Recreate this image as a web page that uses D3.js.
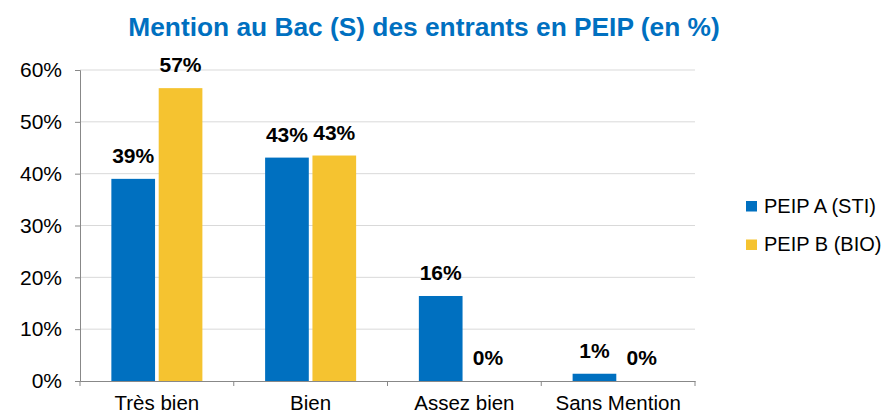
<!DOCTYPE html>
<html>
<head>
<meta charset="utf-8">
<script src="https://cdn.jsdelivr.net/npm/d3@7"></script>
<style>
  body { margin: 0; background: #fff; }
  svg { font-family: "Liberation Sans", Arial, sans-serif; }
</style>
</head>
<body>
<svg width="888" height="416"></svg>
<script>
// chart data
const categories = ['Très bien', 'Bien', 'Assez bien', 'Sans Mention'];
const seriesNames = ['PEIP A (STI)', 'PEIP B (BIO)'];
const peipA = [39.0, 43.1, 16.4, 1.4];
const peipB = [56.5, 43.5, 0, 0];
const labelsA = ['39%', '43%', '16%', '1%'];
const labelsB = ['57%', '43%', '0%', '0%'];
const yTicks = [0, 10, 20, 30, 40, 50, 60];

const colors = ['#0070C0', '#F5C330'];
const font = '"Liberation Sans", Arial, sans-serif';

const svg = d3.select('svg');
const margin = { top: 70, right: 193, bottom: 35, left: 80 };
const width = 888 - margin.left - margin.right;
const height = 416 - margin.top - margin.bottom;

const chart = svg.append('g')
  .attr('transform', `translate(${margin.left}, ${margin.top})`);

const x0 = d3.scaleBand().domain(categories).range([0, width]).padding(0);
const x1 = d3.scaleBand().domain([0, 1])
  .range([x0.bandwidth() * 0.204, x0.bandwidth() * 0.796])
  .paddingInner(0.077);
const y = d3.scaleLinear().domain([0, 60]).range([height, 0]);

// gridlines
chart.append('g')
  .selectAll('line')
  .data(yTicks.slice(1))
  .join('line')
  .attr('x1', 0).attr('x2', width)
  .attr('y1', d => y(d)).attr('y2', d => y(d))
  .attr('stroke', '#d9d9d9').attr('stroke-width', 1);

// bars
const rows = categories.map((c, i) => ({
  cat: c,
  vals: [{ s: 0, v: peipA[i], l: labelsA[i] }, { s: 1, v: peipB[i], l: labelsB[i] }]
}));

const groups = chart.selectAll('.grp')
  .data(rows)
  .join('g')
  .attr('transform', d => `translate(${x0(d.cat)}, 0)`);

groups.selectAll('rect')
  .data(d => d.vals)
  .join('rect')
  .attr('x', d => x1(d.s))
  .attr('width', x1.bandwidth())
  .attr('y', d => y(d.v))
  .attr('height', d => height - y(d.v))
  .attr('fill', d => colors[d.s]);

groups.selectAll('text')
  .data(d => d.vals)
  .join('text')
  .attr('x', d => x1(d.s) + x1.bandwidth() / 2)
  .attr('y', d => y(d.v) - 16)
  .attr('text-anchor', 'middle')
  .attr('font-size', 21)
  .attr('font-weight', 'bold')
  .attr('fill', '#000')
  .text(d => d.l);

// y axis
const yAxis = chart.append('g')
  .call(d3.axisLeft(y).tickValues(yTicks).tickFormat(d => d + '%').tickSize(5).tickPadding(13));
yAxis.select('.domain').attr('stroke', '#888');
yAxis.selectAll('.tick line').attr('stroke', '#888');
yAxis.selectAll('.tick text')
  .attr('font-size', 21).attr('fill', '#000')
  .attr('font-family', font);

// x axis
const xAxis = chart.append('g')
  .attr('transform', `translate(0, ${height})`)
  .call(d3.axisBottom(x0).tickSize(0).tickPadding(14));
xAxis.select('.domain').attr('stroke', '#888');
xAxis.selectAll('.tick text')
  .attr('font-size', 20.5).attr('fill', '#000')
  .attr('font-family', font);
xAxis.selectAll('.sep')
  .data(d3.range(categories.length + 1))
  .join('line')
  .attr('class', 'sep')
  .attr('x1', i => i * x0.step()).attr('x2', i => i * x0.step())
  .attr('y1', 0).attr('y2', 5)
  .attr('stroke', '#888');

// title
svg.append('text')
  .attr('x', 424).attr('y', 36)
  .attr('text-anchor', 'middle')
  .attr('font-size', 26.3)
  .attr('font-weight', 'bold')
  .attr('fill', '#0070C0')
  .text('Mention au Bac (S) des entrants en PEIP (en %)');

// legend
const legend = svg.append('g').attr('transform', 'translate(746, 201)');
seriesNames.forEach((name, i) => {
  const g = legend.append('g').attr('transform', `translate(0, ${i * 38.5})`);
  g.append('rect').attr('width', 11).attr('height', 10.5).attr('fill', colors[i]);
  g.append('text').attr('x', 18).attr('y', 11.7)
    .attr('font-size', 20).attr('fill', '#000')
    .text(name);
});
</script>
</body>
</html>
